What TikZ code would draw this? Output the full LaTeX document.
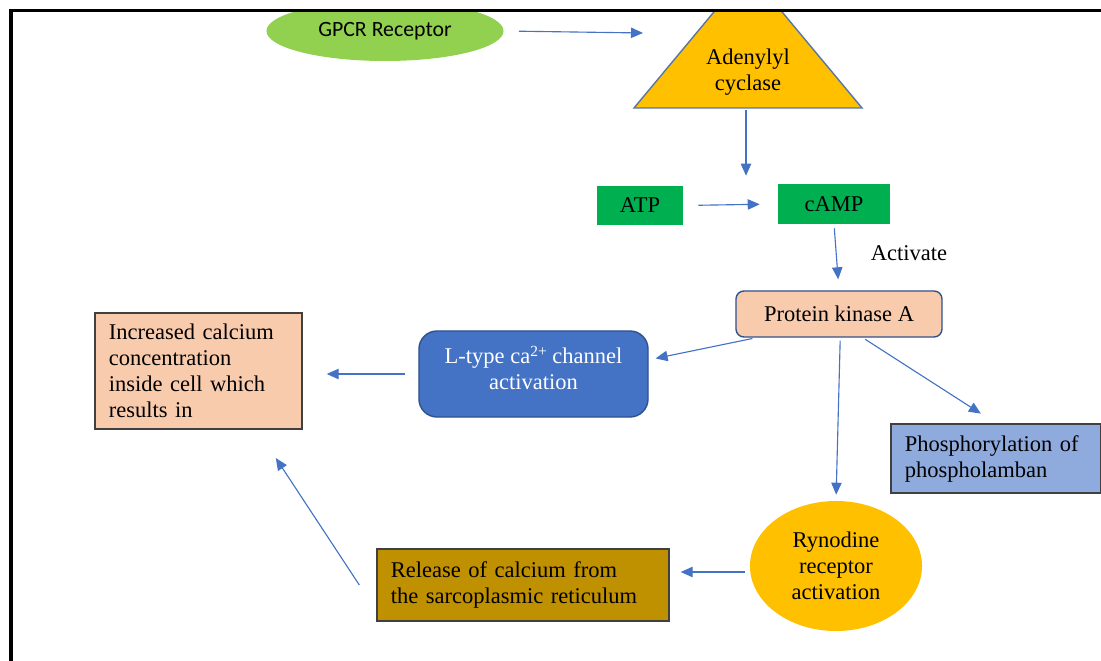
\documentclass[tikz,border=0pt]{standalone}
\usepackage{fontspec}
\setmainfont{Liberation Serif}
\newfontfamily\calibrifont{Carlito}
\usepackage{tikz}
\usetikzlibrary{shapes.geometric, positioning, arrows.meta}

\definecolor{gpcrgreen}{HTML}{92D050}
\definecolor{boxgreen}{HTML}{00B050}
\definecolor{gold}{HTML}{FFC000}
\definecolor{peach}{HTML}{F8CBAD}
\definecolor{steel}{HTML}{4472C4}
\definecolor{navy}{HTML}{2F528F}
\definecolor{lightsteel}{HTML}{8FAADC}
\definecolor{ochre}{HTML}{BF9000}

\begin{document}
\begin{tikzpicture}[
        x=0.025cm, y=-0.025cm,
        every node/.style={font=\fontsize{16}{18.5}\selectfont},
        plainbox/.style={rectangle, draw=black!75, line width=0.9pt, align=left, inner xsep=0.35cm, inner ysep=0pt},
        greenbox/.style={rectangle, fill=boxgreen, inner sep=0pt},
        roundbox/.style={rectangle, draw=navy, line width=1pt, align=center, inner sep=0pt},
        arrow/.style={-{Triangle[length=0.3cm, width=0.26cm]}, draw=steel, line width=0.8pt}
    ]
        \useasboundingbox (0,0) rectangle (1101,661);

        % Top: receptor and cyclase (cut by the frame)
        \begin{scope}
            \clip (11,10) rectangle (1101,661);
            \node[ellipse, fill=gpcrgreen, minimum width=5.925cm, minimum height=1.5cm, inner sep=0pt,
                  font=\calibrifont\fontsize{15.5}{17}\selectfont] (gpcr) at (385,31) {GPCR Receptor};
            \coordinate (acleft) at (634,108);
            \coordinate (acright) at (862,108);
            \coordinate (actop) at (748,-29);
            \filldraw[fill=gold, draw=navy!80, line width=1pt] (acleft) -- (actop) -- (acright) -- cycle;
        \end{scope}
        \node[align=center] (adenylyl) at (748,72) {Adenylyl\\cyclase};
        \coordinate (acbase) at (746,110);

        % Frame
        \draw[line width=0.09cm] (11,661) -- (11,10.5) -- (1101,10.5);

        % Second messenger
        \node[greenbox, minimum width=2.15cm, minimum height=0.975cm] (atp) at (640,205.5) {ATP};
        \node[greenbox, minimum width=2.8cm, minimum height=1cm] (camp) at (834,204) {cAMP};
        \node (activate) at (909,253) {Activate};
        \node[roundbox, fill=peach, minimum width=5.15cm, minimum height=1.15cm, rounded corners=0.2cm] (pka) at (839,314) {Protein kinase A};

        % Targets of PKA
        \node[roundbox, fill=steel, text=white, minimum width=5.725cm, minimum height=2.15cm, rounded corners=0.45cm] (ltype) at (533.5,374) {L-type ca{\fontsize{11}{12}\selectfont\raisebox{0.16cm}{2+}} channel\\activation\\[-0.35cm]};
        \node[plainbox, fill=lightsteel, text width=4.55cm, minimum height=1.725cm] (phospho) at (996,458.5) {Phosphorylation of\\phospholamban};
        \node[ellipse, fill=gold, minimum width=4.3cm, minimum height=3.25cm, inner sep=0pt, align=center] (ryn) at (836,566) {Rynodine\\receptor\\activation};
        \node[plainbox, fill=ochre, text width=6.6cm, minimum height=1.8cm] (release) at (523,585) {Release of calcium from\\the sarcoplasmic reticulum};
        \node[plainbox, fill=peach, text width=4.475cm, minimum height=2.9cm] (incr) at (198.5,371) {Increased calcium\\concentration\\inside cell which\\results in};

        % Arrows
        \draw[arrow, shorten <=0.375cm] (gpcr.east) -- (643,33);
        \draw[arrow, shorten >=0.2cm] (acbase) -- (acbase |- camp.north);
        \draw[arrow, shorten <=0.375cm, shorten >=0.45cm] (atp.east) -- (camp.west);
        \draw[arrow, shorten <=0.1cm, shorten >=0.275cm] (camp.south) -- (pka.north);
        \draw[arrow, shorten <=0.1cm, shorten >=0.175cm] (pka.196) -- (ltype.7);
        \draw[arrow, shorten <=0.075cm, shorten >=0.15cm] (pka.-87) -- (ryn.north);
        \draw[arrow, shorten <=0.075cm, shorten >=0.45cm] (pka.-45) -- (phospho.north);
        \draw[arrow, shorten <=0.125cm, shorten >=0.275cm] (ryn.184) -- (ryn.184 -| release.east);
        \draw[arrow, shorten >=0.85cm] ([xshift=-0.425cm]release.west) -- (incr.-45);
        \draw[arrow, shorten <=0.325cm, shorten >=0.6cm] (ltype.west) -- (ltype.west -| incr.east);
    \end{tikzpicture}
\end{document}
